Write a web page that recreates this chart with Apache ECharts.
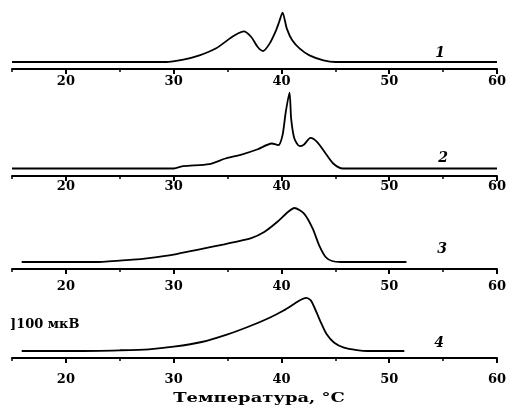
<!DOCTYPE html>
<html><head><meta charset="utf-8">
<script src="https://cdn.jsdelivr.net/npm/echarts@6/dist/echarts.min.js"></script>
<style>html,body{margin:0;padding:0;background:#fff}#c{width:512px;height:414px}</style>
</head><body><div id="c"></div>
<script>
// ---- data (temperature °C, signal µV above baseline) ----
const curve1T = [15, 29.3, 30.9, 32.4, 33.9, 35.4, 36.0, 36.5, 37.2, 37.8, 38.3, 38.9, 39.5, 39.8, 40.1, 40.5, 41.0, 41.7, 42.6, 43.9, 45, 60];
const curve1V = [0, 0, 27, 74, 149, 278, 320, 341, 278, 167, 122, 204, 352, 450, 549, 371, 241, 149, 74, 19, 0, 0];

const curve2T = [15, 30, 30.9, 33.3, 34.8, 36.3, 37.8, 39.1, 39.7, 40.1, 40.4, 40.75, 40.9, 41.2, 41.7, 42.1, 42.7, 43.3, 44.1, 44.8, 45.7, 60];
const curve2V = [0, 0, 26, 48, 111, 155, 214, 278, 259, 370, 628, 844, 555, 333, 248, 267, 340, 295, 167, 56, 0, 0];

const curve3T = [15.9, 23, 26.2, 27.7, 30, 32.3, 34.7, 37.2, 38.4, 39.6, 40.6, 41.2, 42.1, 42.9, 43.5, 44.1, 44.7, 45.5, 51.6];
const curve3V = [0, 0, 26, 44, 82, 138, 197, 266, 333, 444, 555, 600, 537, 371, 185, 56, 11, 0, 0];

const curve4T = [15.9, 21, 25, 27.7, 30, 32.6, 35, 37.1, 38.9, 40.2, 41.2, 41.8, 42.3, 42.7, 43.0, 43.6, 44.2, 44.9, 45.8, 47, 48, 51.4];
const curve4V = [0, 0, 8, 19, 48, 100, 185, 278, 370, 450, 525, 570, 590, 565, 500, 333, 185, 92, 37, 10, 0, 0];

const majorTicks = [20, 30, 40, 50, 60];
const minorTicks = [15, 25, 35, 45, 55];
const curveLabels = ['1', '2', '3', '4'];
const scaleBarText = ']100 мкВ';
const axisTitle = 'Температура, °C';

// ---- layout ----
const pxPerUV = 0.09;
const panels = [
  {axis: 69,  base: 62,    top: 4,   margin: 6,  lab: [440, 53]},
  {axis: 176, base: 168.5, top: 86,  margin: 4,  lab: [443, 158]},
  {axis: 269, base: 262,   top: 195, margin: 11, lab: [442, 249]},
  {axis: 358, base: 351,   top: 286, margin: 15, lab: [439, 343]}
];
const curves = [[curve1T, curve1V], [curve2T, curve2V], [curve3T, curve3V], [curve4T, curve4V]];
const serifFont = 'DejaVu Serif';

const grid = [], xAxis = [], yAxis = [], series = [], graphic = [];
panels.forEach((p, i) => {
  const h = p.axis - p.top;
  grid.push({left: 12, right: 15, top: p.top, height: h});
  const ymin = -(p.axis - p.base) / pxPerUV;
  yAxis.push({gridIndex: i, type: 'value', show: false, min: ymin, max: ymin + h / pxPerUV});
  xAxis.push({
    gridIndex: i, type: 'value', position: 'bottom', min: 15, max: 60,
    splitLine: {show: false},
    axisLine: {show: true, onZero: false, lineStyle: {color: '#000', width: 2}},
    axisTick: {show: true, customValues: majorTicks, length: 5, lineStyle: {color: '#000', width: 2}},
    axisLabel: {show: true, customValues: majorTicks, margin: p.margin, color: '#000',
      fontFamily: serifFont, fontWeight: 'bold', fontSize: 13}
  });
  xAxis.push({
    gridIndex: i, type: 'value', position: 'bottom', offset: 0, min: 15, max: 60,
    splitLine: {show: false},
    axisLine: {show: false, onZero: false},
    axisTick: {show: true, customValues: minorTicks, length: 3, lineStyle: {color: '#000', width: 1.5}},
    axisLabel: {show: false}
  });
  const [ts, vs] = curves[i];
  series.push({
    type: 'line', xAxisIndex: 2 * i, yAxisIndex: i,
    data: ts.map((t, k) => [t, vs[k]]),
    symbol: 'none', smooth: 0.25,
    lineStyle: {color: '#000', width: 1.8}, silent: true, animation: false
  });
  graphic.push({type: 'text', x: p.lab[0], y: p.lab[1],
    style: {text: curveLabels[i], fill: '#000', font: 'italic bold 14px "' + serifFont + '"',
      textAlign: 'center', textVerticalAlign: 'middle'}});
});

graphic.push({type: 'text', x: 10, y: 325,
  style: {text: scaleBarText, fill: '#000', font: 'bold 13px "' + serifFont + '"',
    textAlign: 'left', textVerticalAlign: 'middle'}});
graphic.push({type: 'text', x: 259, y: 399, scaleX: 1.38,
  style: {text: axisTitle, fill: '#000', font: 'bold 13px "' + serifFont + '"',
    textAlign: 'center', textVerticalAlign: 'middle'}});

const chart = echarts.init(document.getElementById('c'), null, {renderer: 'canvas'});
chart.setOption({backgroundColor: '#fff', animation: false, grid, xAxis, yAxis, series, graphic});
</script></body></html>
